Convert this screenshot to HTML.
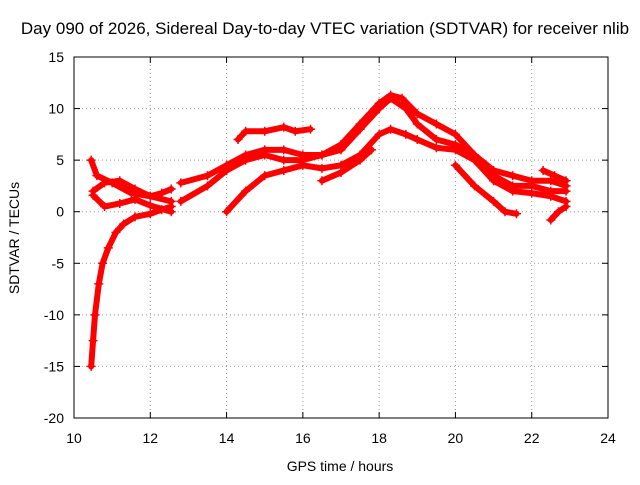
<!DOCTYPE html>
<html><head><meta charset="utf-8"><style>
body{margin:0;background:#fff}
svg text{font-family:"Liberation Sans",sans-serif;font-size:14px;fill:#000}
</style></head><body>
<svg id="chart" width="640" height="480">
<text x="325" y="34" text-anchor="middle" style="font-size:17px">Day 090 of 2026, Sidereal Day-to-day VTEC variation (SDTVAR) for receiver nlib</text>
<text x="340" y="471" text-anchor="middle">GPS time / hours</text>
<text transform="translate(19,238) rotate(-90)" text-anchor="middle">SDTVAR / TECUs</text>
<g id="grid"></g><g id="series"></g>
<rect x="74" y="57" width="534" height="361" fill="none" stroke="#000"/>
</svg>
<script>
const xTicks=[10,12,14,16,18,20,22,24];
const yTicks=[15,10,5,0,-5,-10,-15,-20];
const seriesA=[[10.45,-15],[10.5,-12.5],[10.55,-10],[10.65,-7],[10.75,-5],[10.9,-3.5],[11.1,-2],[11.3,-1.2],[11.6,-0.5],[12,-0.2],[12.3,0.2],[12.55,0.5]];
const seriesB=[[10.45,5],[10.6,3.5],[11,2.8],[11.5,1.8],[12,1.5],[12.3,1.8],[12.55,2.2]];
const seriesC=[[10.5,2],[10.8,2.8],[11.2,3],[11.6,2.2],[12,1.5],[12.55,1]];
const seriesD=[[10.5,1.6],[10.8,0.5],[11.2,0.8],[11.6,1.2],[12,0.6],[12.55,0]];
const seriesE=[[12.8,2.8],[13.5,3.5],[14,4.5],[14.5,5.5],[15,6],[15.5,6],[16,5.5],[16.5,5.5],[17,6.5],[17.5,8.5],[18,10.5],[18.3,11.3],[18.6,11],[19,9.5],[19.5,8.5],[20,7.5],[20.5,5.5],[21,4],[21.5,3.5],[22,3],[22.5,3],[22.9,2.5]];
const seriesF=[[12.8,1],[13.5,2.5],[14,4],[14.5,5],[15,5.5],[15.5,5],[16,5],[16.5,5.5],[17,6],[17.5,8],[18,10],[18.3,11],[18.7,10],[19,8.5],[19.5,7],[20,6.5],[20.5,5.5],[21,3.5],[21.5,2.5],[22,2.5],[22.5,2],[22.9,2]];
const seriesG=[[14,0],[14.5,2],[15,3.5],[15.5,4],[16,4.5],[16.5,4.2],[17,4.5],[17.5,5.5],[18,7.5],[18.3,8],[18.7,7.5],[19,7],[19.5,6.2],[20,6],[20.5,5],[21,3],[21.5,2],[22,1.8],[22.5,1.5],[22.9,1]];
const seriesH=[[14.3,7],[14.5,7.8],[15,7.8],[15.5,8.2],[15.8,7.8],[16.2,8]];
const seriesI=[[16.5,3],[17,3.8],[17.5,5],[17.8,6]];
const seriesJ=[[20,4.5],[20.5,2.5],[21,1],[21.3,0],[21.6,-0.2]];
const seriesK=[[22.5,-0.8],[22.7,0],[22.9,0.5]];
const seriesL=[[22.3,4],[22.6,3.5],[22.9,3]];
const allSeries=[seriesA,seriesB,seriesC,seriesD,seriesE,seriesF,seriesG,seriesH,seriesI,seriesJ,seriesK,seriesL];
const X=h=>74+(h-10)*534/14, Y=v=>57+(15-v)*361/35;
const NS='http://www.w3.org/2000/svg';
const g=document.getElementById('grid'), s=document.getElementById('series');
function mk(tag,at,p){const e=document.createElementNS(NS,tag);for(const k in at)e.setAttribute(k,at[k]);p.appendChild(e);return e;}
xTicks.forEach(t=>{const x=X(t);
 const l=mk('line',{x1:x,x2:x,y1:57,y2:418,stroke:'#999','stroke-dasharray':'1,3'},g);
 
 
 mk('line',{x1:x,x2:x,y1:418,y2:412,stroke:'#000'},g);
 mk('line',{x1:x,x2:x,y1:57,y2:63,stroke:'#000'},g);
 const tx=mk('text',{x:x,y:443,'text-anchor':'middle'},g);tx.textContent=t;
 
 });
yTicks.forEach(t=>{const y=Y(t);
 const l=mk('line',{x1:74,x2:608,y1:y,y2:y,stroke:'#999','stroke-dasharray':'1,3'},g);
 
 
 mk('line',{x1:74,x2:80,y1:y,y2:y,stroke:'#000'},g);
 mk('line',{x1:602,x2:608,y1:y,y2:y,stroke:'#000'},g);
 const tx=mk('text',{x:64,y:y+5,'text-anchor':'end'},g);tx.textContent=t;
 
 });
allSeries.forEach((ser,i)=>{
 const pl=mk('polyline',{points:ser.map(p=>X(p[0])+','+Y(p[1])).join(' '),fill:'none',stroke:'#f00','stroke-width':6,'stroke-linejoin':'round','stroke-linecap':'round'},s);
 
 
 ser.forEach(p=>{const x=X(p[0]),y=Y(p[1]);
  const m=mk('path',{d:`M${x-4.5},${y}H${x+4.5}M${x},${y-4.5}V${y+4.5}`,stroke:'#f00','stroke-width':1.5},s);
  
  });
});
</script>
</body></html>
